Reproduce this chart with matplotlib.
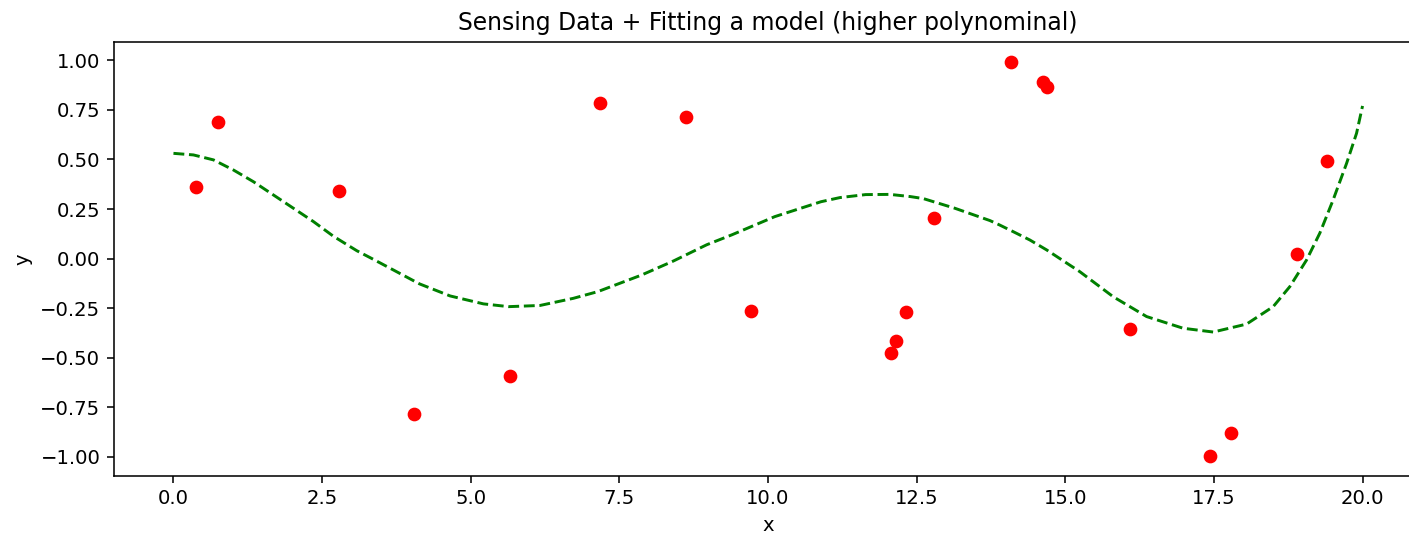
import matplotlib
matplotlib.use("Agg")
import matplotlib.pyplot as plt

# Sensed data points (red dots)
data_x = [0.377, 0.757, 2.791, 4.047, 5.661, 7.175, 8.616, 9.709, 12.073, 12.152,
          12.315, 12.786, 14.086, 14.629, 14.686, 16.082, 17.427, 17.785, 18.895, 19.395]
data_y = [0.363, 0.691, 0.341, -0.783, -0.590, 0.784, 0.716, -0.262, -0.477, -0.414,
          -0.270, 0.205, 0.993, 0.890, 0.864, -0.356, -0.995, -0.880, 0.022, 0.491]

# Fitted model curve (green dashed)
fit_x = [0.0, 0.336, 0.673, 1.009, 1.345, 1.682, 2.018, 2.354, 2.690, 3.084, 3.385,
         4.137, 4.653, 5.213, 5.638, 6.166, 6.726, 7.140, 7.870, 8.408, 8.969, 9.391,
         10.115, 10.891, 11.211, 11.643, 12.051, 12.393, 12.611, 13.144, 13.733,
         13.894, 14.125, 14.405, 14.687, 15.246, 15.806, 16.368, 16.983, 17.488,
         18.049, 18.497, 18.777, 19.058, 19.282, 19.505, 19.731, 19.899, 20.0]
fit_y = [0.531, 0.523, 0.498, 0.447, 0.388, 0.321, 0.254, 0.187, 0.113, 0.040, -0.007,
         -0.127, -0.188, -0.228, -0.242, -0.236, -0.200, -0.166, -0.083, -0.012, 0.070,
         0.120, 0.212, 0.287, 0.308, 0.323, 0.324, 0.313, 0.303, 0.254, 0.192,
         0.170, 0.136, 0.094, 0.044, -0.066, -0.192, -0.292, -0.351, -0.370,
         -0.330, -0.242, -0.141, -0.007, 0.129, 0.296, 0.480, 0.632, 0.770]

DPI = 141
fig = plt.figure(figsize=(1409 / DPI, 537 / DPI), dpi=DPI)
ax = fig.add_axes([114 / 1409, 61.3 / 537, 1308 / 1409, 433.7 / 537])

ax.plot(data_x, data_y, 'ro')
ax.plot(fit_x, fit_y, 'g--')

ax.set_title("Sensing Data + Fitting a model (higher polynominal)")
ax.set_xlabel("x")
ax.set_ylabel("y")

fig.savefig("out.png", dpi=DPI)
